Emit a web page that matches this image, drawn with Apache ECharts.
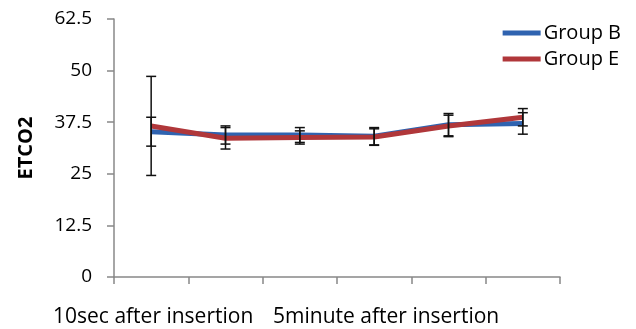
<!DOCTYPE html>
<html>
<head>
<meta charset="utf-8">
<script src="https://cdn.jsdelivr.net/npm/echarts@6/dist/echarts.min.js"></script>
<style>
  html, body { margin: 0; padding: 0; background: #fff; }
  #chart { width: 636px; height: 329px; }
</style>
</head>
<body>
<div id="chart"></div>
<script>
const categories = [
  "10sec after insertion",
  "1minute after insertion",
  "3minute after insertion",
  "5minute after insertion",
  "10minute after insertion",
  "15minute after insertion",
];
const yTicks = [0, 12.5, 25, 37.5, 50, 62.5];

const groupBMean = [35.2, 34.4, 34.4, 34.1, 36.9, 37.2];
const groupBSd = [3.5, 2.2, 1.8, 2.1, 2.7, 2.6];
const groupEMean = [36.6, 33.6, 33.8, 33.9, 36.6, 38.7];
const groupESd = [12.0, 2.6, 1.6, 2.0, 2.6, 2.1];

const chart = echarts.init(document.getElementById("chart"), null, { renderer: "canvas" });

const errorData = (means, sds) => means.map((m, i) => [i, m, sds[i]]);

// vertical whisker with caps, placed via the axes
const renderError = (params, api) => {
  const i = api.value(0);
  const m = api.value(1);
  const s = api.value(2);
  const top = api.coord([i, m + s]);
  const bot = api.coord([i, m - s]);
  const cap = 5;
  const style = { stroke: "#111", lineWidth: 1.5 };
  return {
    type: "group",
    children: [
      { type: "line", shape: { x1: top[0], y1: top[1], x2: bot[0], y2: bot[1] }, style },
      { type: "line", shape: { x1: top[0] - cap, y1: top[1], x2: top[0] + cap, y2: top[1] }, style },
      { type: "line", shape: { x1: bot[0] - cap, y1: bot[1], x2: bot[0] + cap, y2: bot[1] }, style },
    ],
  };
};

const option = {
  animation: false,
  textStyle: { fontFamily: "Open Sans" },
  grid: { left: 114, right: 76, top: 19, bottom: 52 },
  legend: {
    orient: "vertical",
    right: 10,
    top: 18,
    itemGap: 6,
    itemWidth: 38,
    itemHeight: 5,
    icon: "rect",
    textStyle: { fontSize: 20, color: "#000", fontFamily: "Open Sans", padding: [0, 0, 0, -2] },
    data: ["Group B", "Group E"],
  },
  xAxis: {
    type: "category",
    data: categories,
    boundaryGap: true,
    axisLine: { lineStyle: { color: "#888", width: 1.5 } },
    axisTick: { show: true, length: 7, interval: 0, lineStyle: { color: "#888", width: 1.5 } },
    axisLabel: {
      interval: 2,
      margin: 30,
      fontSize: 21,
      color: "#000",
      fontFamily: "Open Sans",
      // second visible label sits a little right of its slot in the original
      formatter: (v, i) => (i === 3 ? "{r|" + v + "}" : "{l|" + v + "}"),
      rich: {
        l: { fontSize: 21, color: "#000", fontFamily: "Open Sans", padding: [0, 0, 0, 4] },
        r: { fontSize: 21, color: "#000", fontFamily: "Open Sans", padding: [0, 0, 0, 24] },
      },
    },
  },
  yAxis: {
    type: "value",
    min: yTicks[0],
    max: yTicks[yTicks.length - 1],
    interval: 12.5,
    name: "ETCO2",
    nameLocation: "middle",
    nameGap: 78,
    nameTextStyle: { fontSize: 20, fontWeight: "bold", color: "#000", fontFamily: "Open Sans" },
    axisLine: { show: true, lineStyle: { color: "#888", width: 1.5 } },
    axisTick: { show: true, length: 7, lineStyle: { color: "#888", width: 1.5 } },
    axisLabel: { fontSize: 19, color: "#000", margin: 22, fontFamily: "Open Sans" },
    splitLine: { show: false },
  },
  series: [
    {
      name: "Group B",
      type: "line",
      data: groupBMean,
      symbol: "none",
      color: "#2f63b0",
      lineStyle: { width: 5, color: "#2f63b0" },
      z: 2,
    },
    {
      name: "Group E",
      type: "line",
      data: groupEMean,
      symbol: "none",
      color: "#b0373a",
      lineStyle: { width: 5, color: "#b0373a" },
      z: 3,
    },
    {
      type: "custom",
      renderItem: renderError,
      data: errorData(groupBMean, groupBSd),
      encode: { x: 0, y: 1 },
      z: 5,
    },
    {
      type: "custom",
      renderItem: renderError,
      data: errorData(groupEMean, groupESd),
      encode: { x: 0, y: 1 },
      z: 5,
    },
  ],
};

chart.setOption(option);
</script>
</body>
</html>
